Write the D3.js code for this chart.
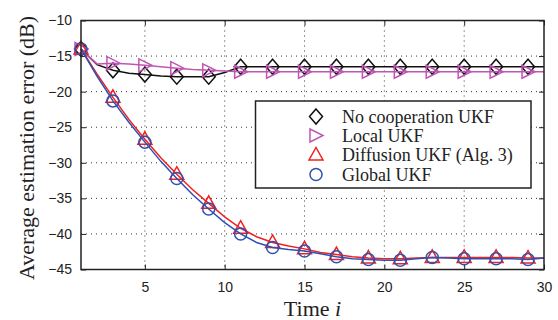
<!DOCTYPE html>
<html><head><meta charset="utf-8">
<script src="https://cdn.jsdelivr.net/npm/d3@7"></script>
<style>body{margin:0;background:#fff}svg{display:block}</style>
</head><body>
<svg id="c" width="558" height="320"></svg>
<script>
const time = d3.range(1, 31);
const noCoop = [-14,-16.2,-17.0,-17.4,-17.6,-17.8,-17.9,-17.9,-17.9,-17.3,-16.5,-16.5,-16.5,-16.5,-16.5,-16.5,-16.5,-16.5,-16.5,-16.5,-16.5,-16.5,-16.5,-16.5,-16.5,-16.5,-16.5,-16.5,-16.5,-16.5];
const localUKF = [-14,-16.1,-16.0,-16.1,-16.3,-16.5,-16.7,-16.9,-17.0,-17.1,-17.2,-17.2,-17.2,-17.2,-17.2,-17.2,-17.2,-17.2,-17.2,-17.2,-17.2,-17.2,-17.2,-17.2,-17.2,-17.2,-17.2,-17.2,-17.2,-17.2];
const diffusion = [-14,-17.5,-20.8,-23.9,-26.7,-29.3,-31.6,-33.8,-35.7,-37.6,-39.2,-40.4,-41.2,-41.7,-42.1,-42.6,-42.9,-43.2,-43.4,-43.5,-43.5,-43.4,-43.3,-43.3,-43.3,-43.3,-43.3,-43.3,-43.4,-43.4];
const globalUKF = [-14,-17.8,-21.3,-24.3,-27.1,-29.8,-32.2,-34.5,-36.5,-38.4,-40.0,-41.2,-41.9,-42.2,-42.4,-42.8,-43.2,-43.5,-43.6,-43.7,-43.7,-43.5,-43.3,-43.4,-43.5,-43.5,-43.5,-43.5,-43.6,-43.4];
const xTicks = [5,10,15,20,25,30];
const yTicks = [-45,-40,-35,-30,-25,-20,-15,-10];
const seriesNames = ["No cooperation UKF","Local UKF","Diffusion UKF (Alg. 3)","Global UKF"];

const series = [
  {name: seriesNames[0], values: noCoop, color: "#111", marker: "diamond"},
  {name: seriesNames[1], values: localUKF, color: "#c055b5", marker: "tri-right"},
  {name: seriesNames[2], values: diffusion, color: "#f02020", marker: "tri-up"},
  {name: seriesNames[3], values: globalUKF, color: "#3050b0", marker: "circle"}
];

const L = 81, R = 544, T = 20.5, B = 269.5;
const svg = d3.select("#c");
const x = d3.scaleLinear().domain([1,30]).range([L,R]);
const y = d3.scaleLinear().domain([-45,-10]).range([B,T]);

// grid
const g = svg.append("g");
g.selectAll(".gx").data(xTicks.filter(v=>v<30)).join("line")
  .attr("x1",d=>x(d)).attr("x2",d=>x(d)).attr("y1",T).attr("y2",B)
  .attr("stroke","#333").attr("stroke-width",1).attr("stroke-dasharray","1,4");
g.selectAll(".gy").data(yTicks.filter(v=>v>-45&&v<-10)).join("line")
  .attr("y1",d=>y(d)).attr("y2",d=>y(d)).attr("x1",L).attr("x2",R)
  .attr("stroke","#333").attr("stroke-width",1).attr("stroke-dasharray","1,4");

// axes
const ax = svg.append("g").attr("transform",`translate(0,${B})`)
  .call(d3.axisBottom(x).tickValues(xTicks).tickSizeInner(-5).tickSizeOuter(0).tickPadding(12.5).tickFormat(d3.format("d")));
const axT = svg.append("g").attr("transform",`translate(0,${T})`)
  .call(d3.axisTop(x).tickValues(xTicks).tickSizeInner(-5).tickSizeOuter(0).tickFormat(""));
const ay = svg.append("g").attr("transform",`translate(${L},0)`)
  .call(d3.axisLeft(y).tickValues(yTicks).tickSizeInner(-5).tickSizeOuter(0).tickPadding(9).tickFormat(d=>String(d).replace("-","\u2212")));
const ayR = svg.append("g").attr("transform",`translate(${R},0)`)
  .call(d3.axisRight(y).tickValues(yTicks).tickSizeInner(-5).tickSizeOuter(0).tickFormat(""));
[ax,axT,ay,ayR].forEach(a=>{
  a.select(".domain").remove();
  a.selectAll("line").attr("stroke","#222").attr("stroke-width",1);
  a.selectAll("text").attr("font-family","'Liberation Sans',Arial,sans-serif").attr("font-size",14).attr("fill","#222");
});

// lines
const line = d3.line().x((d,i)=>x(time[i])).y(d=>y(d));
const clip = svg.append("clipPath").attr("id","clp").append("rect").attr("x",L).attr("y",T).attr("width",R-L).attr("height",B-T);

function drawMarker(sel, type, color){
  const s = 7;
  if(type==="circle"){
    sel.append("circle").attr("r",6).attr("fill","none").attr("stroke",color).attr("stroke-width",1.5);
  } else {
    let pts;
    if(type==="diamond") pts = [[0,-7.5],[6.5,0],[0,7.5],[-6.5,0]];
    if(type==="tri-right") pts = [[-6,-6.5],[7,0],[-6,6.5]];
    if(type==="tri-up") pts = [[0,-7.5],[7,5],[-7,5]];
    sel.append("path").attr("d","M"+pts.map(p=>p.join(",")).join("L")+"Z")
      .attr("fill","none").attr("stroke",color).attr("stroke-width",1.5).attr("stroke-linejoin","miter");
  }
}

const plot = svg.append("g");
series.forEach(s=>{
  plot.append("path").datum(s.values).attr("d",line).attr("fill","none")
    .attr("stroke",s.color).attr("stroke-width",1.5);
  s.values.forEach((v,i)=>{
    if(time[i]%2===1){
      const m = plot.append("g").attr("transform",`translate(${x(time[i])},${y(v)})`);
      drawMarker(m, s.marker, s.color);
    }
  });
});

// frame
svg.append("rect").attr("x",L).attr("y",T).attr("width",R-L).attr("height",B-T)
  .attr("fill","none").attr("stroke","#222").attr("stroke-width",1.5);

// legend
const lg = svg.append("g");
lg.append("rect").attr("x",255.5).attr("y",101).attr("width",275.5).attr("height",87)
  .attr("fill","#fff").attr("stroke","#222").attr("stroke-width",1.5);
const rows = [116.5,135.5,155,174.5];
series.forEach((s,i)=>{
  const m = lg.append("g").attr("transform",`translate(316,${rows[i]})`);
  drawMarker(m, s.marker, s.color);
  lg.append("text").attr("x",342).attr("y",rows[i]+6).text(s.name)
    .attr("font-family","'Liberation Serif','Times New Roman',serif").attr("font-size",18).attr("fill","#222");
});

// axis labels
svg.append("text").attr("x",(L+R)/2).attr("y",316).attr("text-anchor","middle")
  .attr("font-family","'Liberation Serif','Times New Roman',serif").attr("font-size",22).attr("fill","#222")
  .html('Time <tspan font-style="italic">i</tspan>');
svg.append("text").attr("transform",`translate(34,${(T+B)/2+3}) rotate(-90)`).attr("text-anchor","middle")
  .attr("font-family","'Liberation Serif','Times New Roman',serif").attr("font-size",22).attr("fill","#222")
  .text("Average estimation error (dB)");
</script>
</body></html>
